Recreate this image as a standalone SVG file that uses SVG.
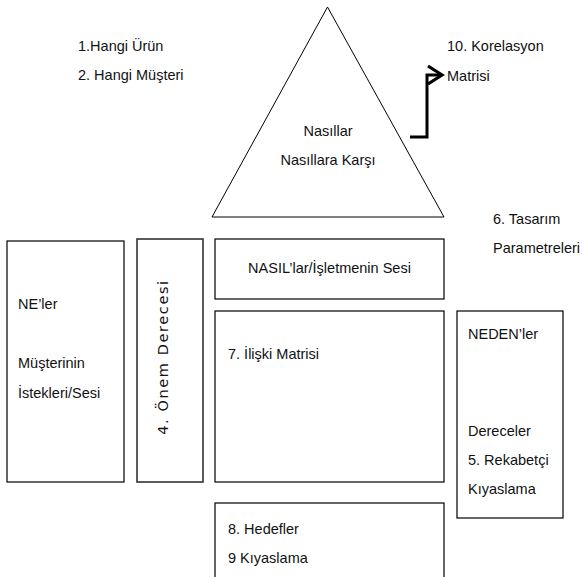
<svg xmlns="http://www.w3.org/2000/svg" width="582" height="577" viewBox="0 0 582 577">
<defs>
<style>
.box{fill:#fff;stroke:#000;stroke-width:1.2}
.t{font-family:"Liberation Sans",Arial,sans-serif;font-size:14.5px;fill:#111}
.c{stroke:#000;stroke-width:3;fill:none}
</style>
<marker id="arr" viewBox="0 0 18 22" refX="16" refY="11" markerWidth="18" markerHeight="22" markerUnits="userSpaceOnUse" orient="auto" overflow="visible">
<path d="M2,2 L16,11 L2,20" fill="none" stroke="#000" stroke-width="3.2"/>
</marker>
</defs>
<rect width="582" height="577" fill="#fff"/>
<g id="labels-top">
<text class="t" x="78" y="51">1.Hangi Ürün</text>
<text class="t" x="78" y="80">2. Hangi Müşteri</text>
</g>
<g id="correlation-label">
<text class="t" x="447" y="51">10. Korelasyon</text>
<text class="t" x="447" y="81">Matrisi</text>
</g>
<g id="roof">
<polygon points="327.5,7 444,217 212,217" fill="#fff" stroke="#000" stroke-width="1"/>
<text class="t" x="328" y="136" text-anchor="middle">Nasıllar</text>
<text class="t" x="328" y="165" text-anchor="middle">Nasıllara Karşı</text>
</g>
<g id="design-params">
<text class="t" x="493" y="224">6. Tasarım</text>
<text class="t" x="493" y="253">Parametreleri</text>
</g>
<g id="whats">
<rect class="box" x="7" y="241" width="117" height="241"/>
<text class="t" x="18" y="309">NE’ler</text>
<text class="t" x="18" y="368">Müşterinin</text>
<text class="t" x="18" y="398">İstekleri/Sesi</text>
</g>
<g id="importance">
<rect x="137" y="239" width="66" height="243" fill="#fff" stroke="#333" stroke-width="1.6"/>
<text x="168" y="357" text-anchor="middle" transform="rotate(-90 168 357)" style="font-family:'DejaVu Sans',sans-serif;font-size:14.5px;letter-spacing:1.6px;fill:#111">4. Önem Derecesi</text>
</g>
<g id="hows">
<rect class="box" x="215" y="239" width="229" height="60"/>
<text class="t" x="329.5" y="273" text-anchor="middle">NASIL’lar/İşletmenin Sesi</text>
</g>
<g id="relationship">
<rect class="box" x="215" y="311" width="229" height="171"/>
<text class="t" x="228" y="359">7. İlişki Matrisi</text>
</g>
<g id="whys">
<rect class="box" x="457" y="311" width="106" height="207"/>
<text class="t" x="468" y="339">NEDEN’ler</text>
<text class="t" x="468" y="436">Dereceler</text>
<text class="t" x="468" y="465">5. Rekabetçi</text>
<text class="t" x="468" y="494">Kıyaslama</text>
</g>
<g id="targets">
<rect class="box" x="215" y="503" width="229" height="90"/>
<text class="t" x="228" y="534">8. Hedefler</text>
<text class="t" x="228" y="563">9 Kıyaslama</text>
</g>
<g id="connectors">
<path class="c" d="M410,137 H427 V75 H442" marker-end="url(#arr)"/>
</g>
</svg>
